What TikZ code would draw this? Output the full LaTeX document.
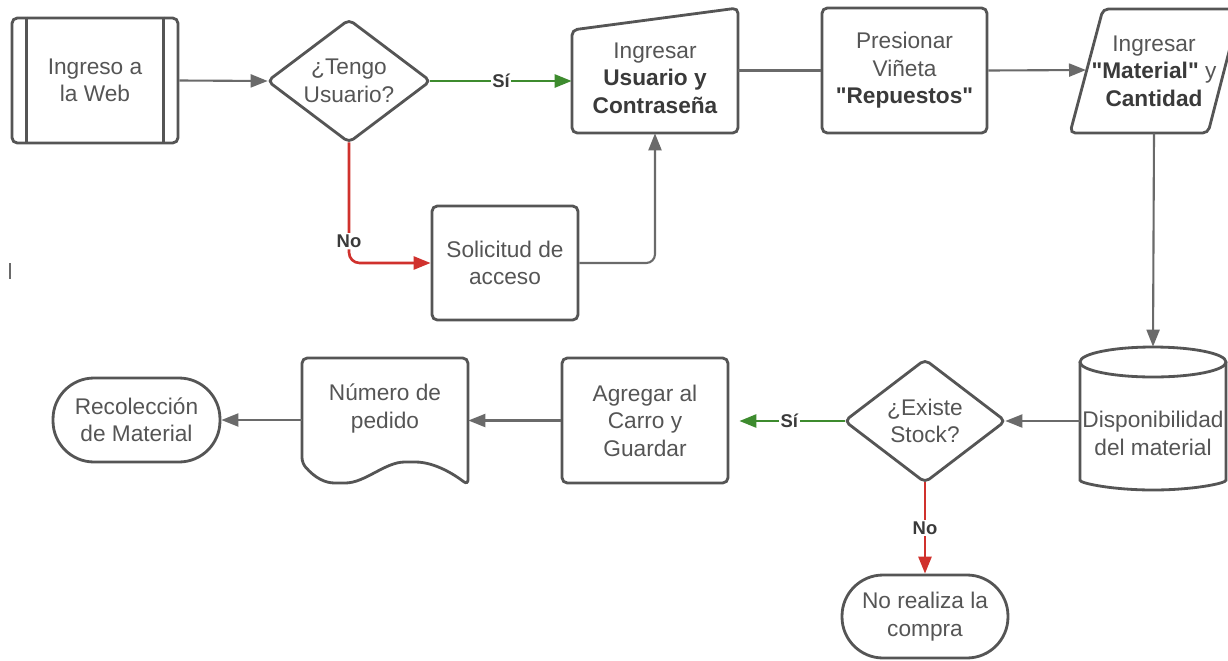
\documentclass[tikz,border=0pt]{standalone}
\usepackage{fontspec}
\setmainfont{Liberation Sans}[Ligatures=TeXOff]
\usetikzlibrary{arrows.meta}
\definecolor{bordc}{HTML}{555555}
\definecolor{txtc}{HTML}{555555}
\definecolor{boldc}{HTML}{3A3A3A}
\definecolor{linec}{HTML}{6A6A6A}
\definecolor{yesc}{HTML}{3D8B2E}
\definecolor{noc}{HTML}{D0312D}
\begin{document}
\begin{tikzpicture}[x=0.02cm,y=-0.02cm,
  txt/.style={align=center,text=txtc,font=\fontsize{12.9}{15.6}\selectfont,inner sep=0pt},
  box/.style={txt,draw=bordc,line width=1.6pt,rounded corners=3pt},
  ghost/.style={txt,draw=none},
  term/.style={txt,draw=bordc,line width=1.6pt,rounded corners=0.82cm},
  outline/.style={draw=bordc,line width=1.6pt,rounded corners=3pt},
  tip/.style={-{Triangle[length=0.34cm,width=0.26cm]}},
  conn/.style={draw=linec,line width=1.2pt},
  yes/.style={draw=yesc,line width=1.5pt},
  no/.style={draw=noc,line width=1.5pt},
  lbl/.style={fill=white,inner sep=1pt,text=boldc,font=\fontsize{10.5}{12}\selectfont\bfseries}
]
\fill[white] (0,0) rectangle (1228,660);
\useasboundingbox (0,0) rectangle (1228,660);

% nodes
\node[box,minimum width=3.32cm,minimum height=2.5cm] (web) at (95,80.5) {Ingreso a\\la Web};
\draw[outline] ([xshift=0.32cm]web.north west) -- ([xshift=0.32cm]web.south west);
\draw[outline] ([xshift=-0.32cm]web.north east) -- ([xshift=-0.32cm]web.south east);

\node[ghost,minimum width=3.24cm,minimum height=2.44cm] (ten) at (349,81) {¿Tengo\\Usuario?};
\draw[outline] (ten.north) -- (ten.east) -- (ten.south) -- (ten.west) -- cycle;

\node[ghost,minimum width=3.32cm,minimum height=2.5cm] (user) at (655,70.5) {};
\draw[outline] (572,30) -- (738,8) -- (738,133) -- (572,133) -- cycle;
\node[txt] (usert) at (655,78) {Ingresar\\{\color{boldc}\bfseries Usuario y}\\{\color{boldc}\bfseries Contraseña}};

\node[box,minimum width=3.3cm,minimum height=2.5cm] (pres) at (904.5,70.5) {Presionar\\Viñeta\\{\color{boldc}\bfseries "Repuestos"}};

\node[ghost,minimum width=3.4cm,minimum height=2.48cm] (mat) at (1154,71) {Ingresar\\{\color{boldc}\bfseries "Material"} y\\{\color{boldc}\bfseries Cantidad}};
\draw[outline] (1103,9) -- (1240,9) -- (1208,133) -- (1070,133) -- cycle;
\coordinate (matl) at (1086,70);

\node[box,minimum width=2.92cm,minimum height=2.28cm] (sol) at (505,263) {Solicitud de\\acceso};

\node[ghost,minimum width=2.92cm,minimum height=2.86cm] (cyl) at (1153,418.5) {};
\draw[outline] (1080,362) -- (1080,475) arc[start angle=180,end angle=360,x radius=1.46cm,y radius=0.3cm] -- (1226,362);
\draw[outline] (1153,362) ellipse [x radius=1.46cm,y radius=0.3cm];
\node[txt] (cylt) at (1153,433.5) {Disponibilidad\\del material};

\node[ghost,minimum width=3.2cm,minimum height=2.44cm] (ex) at (925,421) {¿Existe\\Stock?};
\draw[outline] (ex.north) -- (ex.east) -- (ex.south) -- (ex.west) -- cycle;

\node[box,minimum width=3.32cm,minimum height=2.5cm] (agr) at (645,420.5) {Agregar al\\Carro y\\Guardar};

\node[ghost,minimum width=3.32cm,minimum height=2.54cm] (num) at (385,421.5) {};
\draw[outline] (302,463) .. controls (315,478) and (325,483) .. (340,483)
  .. controls (365,483) and (385,462) .. (410,462)
  .. controls (435,462) and (455,475) .. (468,485) -- (468,358) -- (302,358) -- cycle;
\node[txt] (numt) at (385,408.5) {Número de\\pedido};

\node[term,minimum width=3.34cm,minimum height=1.68cm] (rec) at (136.5,420) {Recolección\\de Material};

\node[term,minimum width=3.32cm,minimum height=1.66cm] (nor) at (925,616.5) {No realiza la\\compra};

% connectors
\draw[conn,tip] (web.east) -- (ten.west);
\draw[yes,tip] (ten.east) -- (user.west |- ten.east) node[lbl,midway] (si1) {Sí};
\draw[no,tip,rounded corners=6pt] (ten.south) |- (sol.west) node[lbl,pos=0.41] (no1) {No};
\draw[conn,tip,rounded corners=5pt] (sol.east) -| (user.south);
\draw[conn] (user.east |- pres.west) -- (pres.west);
\draw[conn,tip] (pres.east) -- (matl);
\draw[conn,tip] (mat.south) -- (cyl.north);
\draw[conn,tip] (cyl.west |- ex.east) -- (ex.east);
\draw[yes,tip,shorten >=0.2cm] (ex.west) -- (agr.east |- ex.west) node[lbl,pos=0.48] (si2) {Sí};
\draw[no,tip] (ex.south) -- (nor.north) node[lbl,midway] (no2) {No};
\draw[conn,tip] (agr.west) -- (agr.west -| num.east);
\draw[conn,tip] (num.west |- rec.east) -- (rec.east);

% stray tick mark
\draw[linec,line width=0.6pt] (10,263) -- (10,279);
\end{tikzpicture}
\end{document}
